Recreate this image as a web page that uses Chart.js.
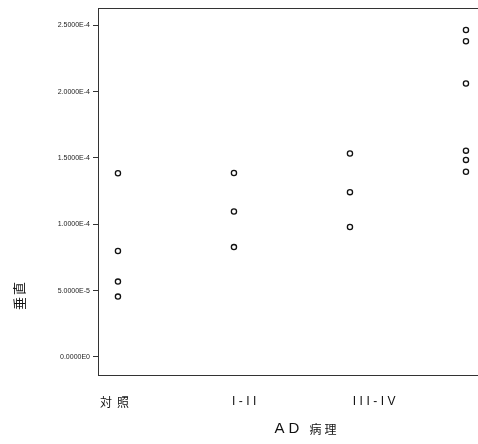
<!DOCTYPE html>
<html>
<head>
<meta charset="utf-8">
<script src="https://cdn.jsdelivr.net/npm/chart.js@4/dist/chart.umd.min.js"></script>
<style>
  html, body { margin: 0; padding: 0; background: #fff; overflow: hidden; }
  #wrap { width: 500px; height: 444px; }
</style>
</head>
<body>
<div id="wrap"><canvas id="c" width="500" height="444"></canvas></div>
<script>
// ---- data ----
const categories = ['対照', 'I-II', 'III-IV', ''];
const group0 = [1.384e-4, 7.98e-5, 5.68e-5, 4.55e-5];
const group1 = [1.386e-4, 1.096e-4, 8.28e-5];
const group2 = [1.533e-4, 1.242e-4, 9.8e-5];
const group3 = [2.464e-4, 2.379e-4, 2.061e-4, 1.555e-4, 1.485e-4, 1.396e-4];
const yTickValues = [0, 5e-5, 1e-4, 1.5e-4, 2e-4, 2.5e-4];
const yTickLabels = ['0.0000E0', '5.0000E-5', '1.0000E-4', '1.5000E-4', '2.0000E-4', '2.5000E-4'];
const xTitle = 'AD 病理';
const yTitle = '垂直';

const groups = [group0, group1, group2, group3];
const points = [];
groups.forEach((g, i) => g.forEach(v => points.push({ x: i, y: v })));

// label nudges (style only)
const labelNudge = [-1, 12, 26, 0];

const frameAndLabels = {
  id: 'frameAndLabels',
  afterDraw(chart) {
    const { ctx, chartArea: a, scales } = chart;
    ctx.save();
    ctx.strokeStyle = '#333';
    ctx.lineWidth = 1;
    ctx.strokeRect(Math.round(a.left) + 0.5, Math.round(a.top) + 0.5,
                   Math.round(a.right - a.left), Math.round(a.bottom - a.top));
    // category labels
    ctx.fillStyle = '#111';
    ctx.textBaseline = 'middle';
    ctx.textAlign = 'center';
    categories.forEach((lab, i) => {
      if (!lab) return;
      const x = scales.x.getPixelForValue(i) + labelNudge[i];
      const cjk = /[\u3000-\u9fff]/.test(lab);
      ctx.font = cjk ? '12px "Noto Sans CJK JP"' : '12px "Liberation Sans"';
      ctx.letterSpacing = cjk ? '5px' : '3.5px';
      ctx.fillText(lab, x, a.bottom + 27);
    });
    // x title
    ctx.letterSpacing = '0px';
    const parts = xTitle.split(' ');
    ctx.font = '15px "Liberation Sans"';
    ctx.letterSpacing = '4px';
    const w1 = ctx.measureText(parts[0]).width;
    ctx.font = '12px "Noto Sans CJK JP"';
    ctx.letterSpacing = '3px';
    const w2 = ctx.measureText(parts[1]).width;
    const total = w1 + 6 + w2;
    const cx = 307;
    let sx = cx - total / 2;
    ctx.textAlign = 'left';
    ctx.font = '15px "Liberation Sans"';
    ctx.letterSpacing = '4px';
    ctx.fillText(parts[0], sx, a.bottom + 54);
    ctx.font = '12px "Noto Sans CJK JP"';
    ctx.letterSpacing = '3px';
    ctx.fillText(parts[1], sx + w1 + 6, a.bottom + 54);
    // y title (rotated)
    ctx.letterSpacing = '2px';
    ctx.translate(19, 295);
    ctx.rotate(-Math.PI / 2);
    ctx.textAlign = 'center';
    ctx.font = '13px "Noto Sans CJK JP"';
    ctx.fillText(yTitle, 0, 0);
    ctx.restore();
  }
};

new Chart(document.getElementById('c'), {
  type: 'scatter',
  data: {
    datasets: [{
      data: points,
      pointStyle: 'circle',
      pointRadius: 2.6,
      pointHoverRadius: 2.6,
      pointBorderWidth: 1.3,
      pointBorderColor: '#111',
      pointBackgroundColor: '#fff'
    }]
  },
  options: {
    responsive: false,
    animation: false,
    events: [],
    layout: { padding: { left: 0, top: 8, right: 12, bottom: 69 } },
    plugins: { legend: { display: false }, tooltip: { enabled: false } },
    scales: {
      x: {
        type: 'linear',
        min: -0.172,
        max: 3.19,
        grid: { display: false },
        border: { display: false },
        ticks: { display: false },
        afterFit(s) { s.height = 0; }
      },
      y: {
        type: 'linear',
        min: -1.36e-5,
        max: 2.63e-4,
        grid: { display: true, drawOnChartArea: false, drawTicks: true, tickLength: 5, color: '#333', lineWidth: 1 },
        border: { display: false },
        afterBuildTicks(s) { s.ticks = yTickValues.map(v => ({ value: v })); },
        ticks: {
          padding: 3,
          color: '#222',
          font: { family: 'Liberation Sans', size: 7 },
          callback(v) {
            const i = yTickValues.findIndex(t => Math.abs(t - v) < 1e-9);
            return i >= 0 ? yTickLabels[i] : '';
          }
        },
        afterFit(s) { s.width = 98; }
      }
    }
  },
  plugins: [frameAndLabels]
});
</script>
</body>
</html>
